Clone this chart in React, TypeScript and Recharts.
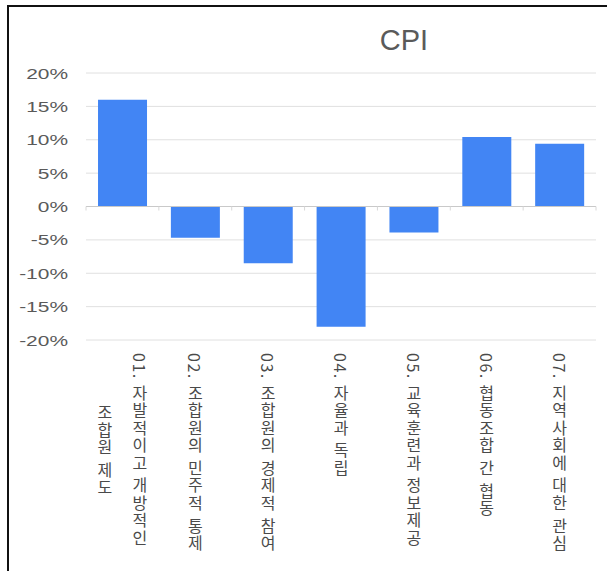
import React from 'react';
import { BarChart, Bar, XAxis, YAxis, CartesianGrid, ReferenceLine } from 'recharts';

const title = 'CPI';
const categories = [
  '01. 자발적이고 개방적인\n조합원 제도',
  '02. 조합원의 민주적 통제',
  '03. 조합원의 경제적 참여',
  '04. 자율과 독립',
  '05. 교육훈련과 정보제공',
  '06. 협동조합 간 협동',
  '07. 지역사회에 대한 관심',
];
const cpiValues = [16.0, -4.7, -8.5, -18.0, -3.9, 10.4, 9.4];
const yTicks = [-20, -15, -10, -5, 0, 5, 10, 15, 20];

const data = categories.map((name, i) => ({ name, cpi: cpiValues[i] }));

const W = 607;
const H = 571;
const LABEL_FONT = 16;
const LABEL_LS = 1.5;
const LINE_PITCH = 35;

const estLen = (s: string) => {
  let len = 0;
  for (const ch of s) {
    if (/[\uAC00-\uD7A3]/.test(ch)) len += LABEL_FONT + LABEL_LS;
    else if (ch === ' ') len += LABEL_FONT * 0.25 + LABEL_LS;
    else if (ch === '.') len += LABEL_FONT * 0.27 + LABEL_LS;
    else len += LABEL_FONT * 0.55 + LABEL_LS;
  }
  return len;
};

const XTick = (props: any) => {
  const { x, y, payload } = props;
  const lines = String(payload.value).split('\n');
  const n = lines.length;
  const top = y + 13;
  const firstLen = estLen(lines[0]);
  return (
    <g>
      {lines.map((ln, i) => {
        const cx = x + ((n - 1) / 2) * LINE_PITCH - i * LINE_PITCH;
        const isFirst = i === 0;
        return (
          <text
            key={i}
            x={cx}
            y={isFirst ? top : top + firstLen / 2}
            textAnchor={isFirst ? 'start' : 'middle'}
            fontSize={LABEL_FONT}
            fill="#4a4a4a"
            fontFamily="'Noto Sans CJK KR', 'Noto Sans', sans-serif"
            style={{ writingMode: 'vertical-rl', letterSpacing: LABEL_LS } as any}
          >
            {ln}
          </text>
        );
      })}
    </g>
  );
};

const YTick = (props: any) => {
  const { y, payload } = props;
  return (
    <text
      transform={`translate(68, ${y + 5.5}) scale(1.35, 1)`}
      textAnchor="end"
      fontSize={15.5}
      fill="#5a5a5a"
      fontFamily="'Liberation Sans', Arial, sans-serif"
    >
      {`${payload.value}%`}
    </text>
  );
};

const ZeroLine = (p: any) => {
  const { x1, y1, x2, y2 } = p;
  const n = categories.length;
  const marks = Array.from({ length: n + 1 }, (_, k) => x1 + ((x2 - x1) * k) / n);
  return (
    <g>
      <line x1={x1} y1={y1} x2={x2} y2={y2} stroke="#c9c9c9" strokeWidth={1} />
      {marks.map((tx, k) => (
        <line key={k} x1={tx} x2={tx} y1={y1} y2={y1 + 4} stroke="#d8d8d8" strokeWidth={1} />
      ))}
    </g>
  );
};

export default function App() {
  return (
    <div style={{ position: 'absolute', left: 0, top: 0, width: W, height: H, background: '#fff', overflow: 'hidden' }}>
      <div
        style={{
          position: 'absolute',
          left: 7,
          top: 5,
          width: W,
          height: H,
          borderLeft: '2px solid #111',
          borderTop: '2px solid #111',
          boxSizing: 'border-box',
        }}
      />
      <div style={{ position: 'absolute', left: 0, top: 0 }}>
        <BarChart
          width={W}
          height={H}
          data={data}
          margin={{ top: 73, right: 11, bottom: 0, left: 0 }}
          barCategoryGap="16.5%"
        >
          <CartesianGrid horizontal vertical={false} stroke="#e0e0e0" />
          <XAxis
            dataKey="name"
            height={231}
            axisLine={false}
            tickLine={false}
            tickSize={0}
            tickMargin={0}
            interval={0}
            tick={<XTick />}
          />
          <YAxis
            width={86}
            domain={[-20, 20]}
            ticks={yTicks}
            axisLine={false}
            tickLine={false}
            tick={<YTick />}
          />
          <ReferenceLine y={0} shape={<ZeroLine />} />
          <Bar dataKey="cpi" fill="#4285f4" isAnimationActive={false} />
        </BarChart>
      </div>
      <svg width={W} height={H} style={{ position: 'absolute', left: 0, top: 0, pointerEvents: 'none' }}>
        <text
          x={404}
          y={50}
          textAnchor="middle"
          fontSize={29}
          fill="#5a5a5a"
          fontFamily="'Liberation Sans', Arial, sans-serif"
        >
          {title}
        </text>
      </svg>
    </div>
  );
}
